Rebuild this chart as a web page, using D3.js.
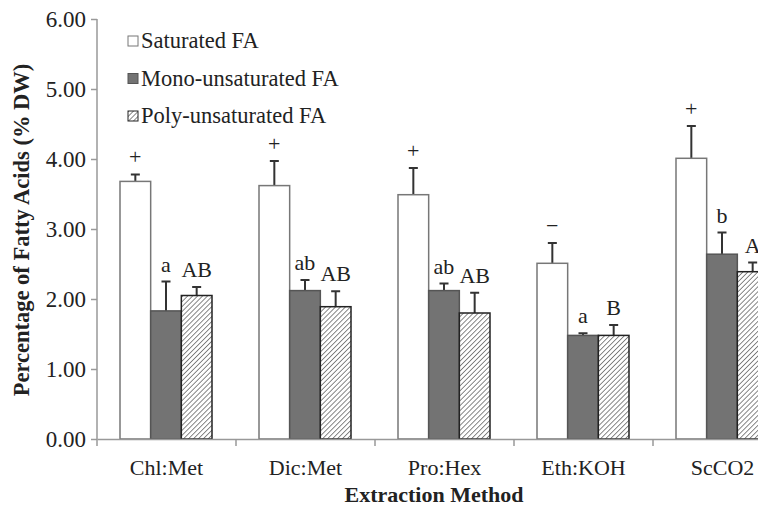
<!DOCTYPE html>
<html>
<head>
<meta charset="utf-8">
<script src="https://cdn.jsdelivr.net/npm/d3@7"></script>
<style>
  body { margin: 0; background: #fff; }
  svg { display: block; font-family: "Liberation Serif", "Times New Roman", serif; }
</style>
</head>
<body>
<div id="chart"></div>
<script>
// data
var methods = ["Chl:Met", "Dic:Met", "Pro:Hex", "Eth:KOH", "ScCO2"];
var seriesNames = ["Saturated FA", "Mono-unsaturated FA", "Poly-unsaturated FA"];
var saturated = [3.68, 3.62, 3.49, 2.51, 4.01];
var saturatedErr = [0.10, 0.35, 0.38, 0.29, 0.46];
var mono = [1.83, 2.12, 2.12, 1.48, 2.64];
var monoErr = [0.42, 0.15, 0.10, 0.03, 0.31];
var poly = [2.05, 1.89, 1.80, 1.48, 2.39];
var polyErr = [0.12, 0.22, 0.29, 0.15, 0.13];
var satLetters = ["+", "+", "+", "\u2212", "+"];
var monoLetters = ["a", "ab", "ab", "a", "b"];
var polyLetters = ["AB", "AB", "AB", "B", "A"];
var yTicks = [0, 1, 2, 3, 4, 5, 6];

var width = 758, height = 510;
var margin = {top: 19, left: 97, bottom: 71};
var plotH = height - margin.top - margin.bottom;
var bandW = 139;
var serif = "Liberation Serif, Times New Roman, serif";

var svg = d3.select("#chart").append("svg")
  .attr("width", width)
  .attr("height", height);

var defs = svg.append("defs");
var pat = defs.append("pattern")
  .attr("id", "hatch")
  .attr("patternUnits", "userSpaceOnUse")
  .attr("width", 3.5)
  .attr("height", 3.5)
  .attr("patternTransform", "rotate(45)");
pat.append("rect").attr("width", 3.5).attr("height", 3.5).attr("fill", "#fff");
pat.append("line")
  .attr("x1", 0).attr("y1", 0).attr("x2", 0).attr("y2", 3.5)
  .attr("stroke", "#555").attr("stroke-width", 1.4);

var x = d3.scaleBand()
  .domain(methods)
  .range([margin.left, margin.left + bandW * methods.length])
  .paddingInner(0)
  .paddingOuter(0);

var xs = d3.scaleBand()
  .domain(seriesNames)
  .range([23, 23 + 92]);

var y = d3.scaleLinear()
  .domain([0, 6])
  .range([margin.top + plotH, margin.top]);

// axes
var yAxis = d3.axisLeft(y)
  .tickValues(yTicks)
  .tickSize(6)
  .tickFormat(d3.format(".2f"));

var gy = svg.append("g")
  .attr("transform", "translate(" + margin.left + ",0)")
  .call(yAxis)
  .attr("font-family", serif);
gy.select(".domain").attr("stroke", "#999").attr("stroke-width", 1.5).attr("d", "M0," + y(6) + "V" + y(0));
gy.selectAll(".tick line").attr("stroke", "#999").attr("stroke-width", 1.5);
gy.selectAll(".tick text")
  .attr("x", -11)
  .attr("dy", "0.34em")
  .attr("font-size", 23)
  .attr("fill", "#222");

var data = methods.map(function(m, i) {
  return [
    {method: m, s: seriesNames[0], v: saturated[i], e: saturatedErr[i], lab: satLetters[i]},
    {method: m, s: seriesNames[1], v: mono[i], e: monoErr[i], lab: monoLetters[i]},
    {method: m, s: seriesNames[2], v: poly[i], e: polyErr[i], lab: polyLetters[i]}
  ];
});

var fills = {};
fills[seriesNames[0]] = "#fff";
fills[seriesNames[1]] = "#737373";
fills[seriesNames[2]] = "url(#hatch)";
var strokes = {};
strokes[seriesNames[0]] = "#777";
strokes[seriesNames[1]] = "#555";
strokes[seriesNames[2]] = "#222";

var groups = svg.selectAll(".group")
  .data(data).enter()
  .append("g")
  .attr("class", "group")
  .attr("transform", function(d) { return "translate(" + x(d[0].method) + ",0)"; });

// error bars (upper only)
groups.selectAll(".err")
  .data(function(d) { return d; }).enter()
  .append("path")
  .attr("class", "err")
  .attr("fill", "none")
  .attr("stroke", "#333")
  .attr("stroke-width", 2)
  .attr("d", function(d) {
    var cx = xs(d.s) + xs.bandwidth() / 2;
    return "M" + cx + "," + y(d.v) + "V" + y(d.v + d.e) +
      "M" + (cx - 4.5) + "," + y(d.v + d.e) + "H" + (cx + 4.5);
  });

groups.selectAll(".bar")
  .data(function(d) { return d; }).enter()
  .append("rect")
  .attr("class", "bar")
  .attr("x", function(d) { return xs(d.s); })
  .attr("width", xs.bandwidth())
  .attr("y", function(d) { return y(d.v); })
  .attr("height", function(d) { return y(0) - y(d.v); })
  .attr("fill", function(d) { return fills[d.s]; })
  .attr("stroke", function(d) { return strokes[d.s]; })
  .attr("stroke-width", 1.5);

groups.selectAll(".lab")
  .data(function(d) { return d; }).enter()
  .append("text")
  .attr("class", "lab")
  .attr("text-anchor", "middle")
  .attr("font-size", 22)
  .attr("fill", "#222")
  .attr("x", function(d) { return xs(d.s) + xs.bandwidth() / 2; })
  .attr("y", function(d) { return y(d.v + d.e) - 10; })
  .text(function(d) { return d.lab; });

// x axis
var xAxis = d3.axisBottom(x).tickSize(0).tickPadding(0);
var gx = svg.append("g")
  .attr("transform", "translate(0," + y(0) + ")")
  .call(xAxis)
  .attr("font-family", serif);
gx.select(".domain").attr("stroke", "#999").attr("stroke-width", 1.5);
gx.selectAll(".tick text")
  .attr("y", 36)
  .attr("dy", 0)
  .attr("font-size", 22)
  .attr("fill", "#222");
gx.selectAll(".sep")
  .data(methods.concat(["end"])).enter()
  .append("line")
  .attr("class", "sep")
  .attr("x1", function(d, i) { return margin.left + i * bandW; })
  .attr("x2", function(d, i) { return margin.left + i * bandW; })
  .attr("y1", 0).attr("y2", 7)
  .attr("stroke", "#999").attr("stroke-width", 1.5);

// axis titles
svg.append("text")
  .attr("x", 434)
  .attr("y", 502)
  .attr("text-anchor", "middle")
  .attr("font-size", 22)
  .attr("font-weight", "bold")
  .attr("fill", "#222")
  .text("Extraction Method");

svg.append("text")
  .attr("transform", "translate(29," + 230 + ") rotate(-90)")
  .attr("text-anchor", "middle")
  .attr("font-size", 22.5)
  .attr("font-weight", "bold")
  .attr("fill", "#222")
  .text("Percentage of Fatty Acids (% DW)");

// legend
var legend = svg.selectAll(".legend")
  .data(seriesNames).enter()
  .append("g")
  .attr("class", "legend")
  .attr("transform", function(d, i) { return "translate(128," + (36 + i * 37.5) + ")"; });
legend.append("rect")
  .attr("width", 10).attr("height", 10)
  .attr("fill", function(d) { return fills[d]; })
  .attr("stroke", function(d) { return strokes[d]; })
  .attr("stroke-width", 1);
legend.append("text")
  .attr("x", 13)
  .attr("y", 12)
  .attr("font-size", 22.5)
  .attr("fill", "#222")
  .text(function(d) { return d; });
</script>
</body>
</html>
